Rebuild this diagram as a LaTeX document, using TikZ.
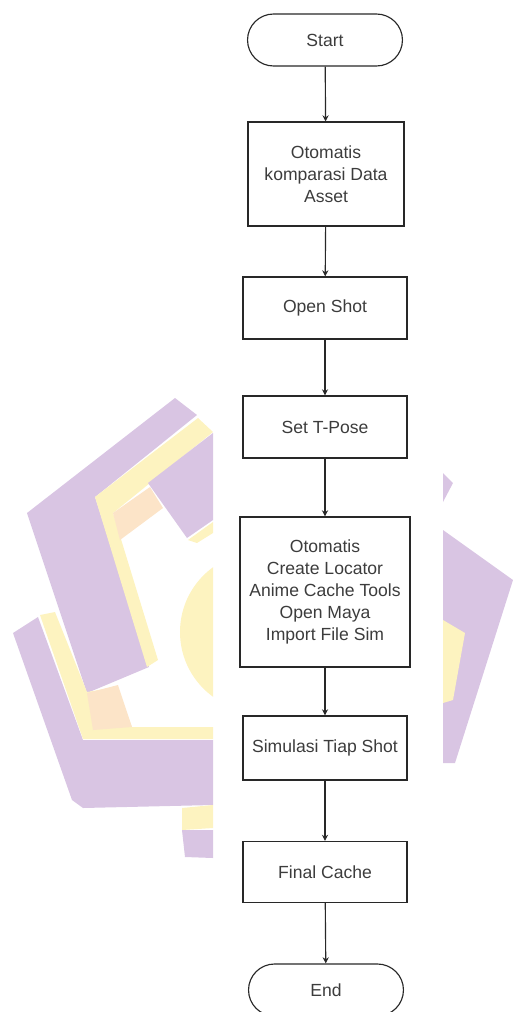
\documentclass[tikz,border=0pt]{standalone}
\usepackage{fontspec}
\setmainfont{Liberation Sans}
\definecolor{markpurple}{RGB}{217, 197, 227}
\definecolor{markyellow}{RGB}{253, 243, 192}
\definecolor{markpeach}{RGB}{252, 228, 200}
\definecolor{linegray}{RGB}{40, 40, 40}
\definecolor{textgray}{RGB}{60, 60, 60}
\usetikzlibrary{shapes, arrows.meta, positioning}

\begin{document}
\begin{tikzpicture}[
  x=0.02cm, y=-0.02cm,
  fbox/.style={draw=linegray, line width=0.65pt, align=center, inner sep=2pt, text=textgray, font=\fontsize{10}{12.5}\selectfont, minimum width=3.28cm},
  tbox/.style={fbox, rounded rectangle, minimum width=3.24cm, minimum height=1.04cm},
  flow/.style={draw=linegray, line width=0.65pt, -{Stealth[length=3.5pt, width=3.5pt]}}
]
  \useasboundingbox (0, 0) rectangle (513, 1012);

  \fill[markpurple] (27, 513) -- (175, 398) -- (197, 415) -- (95, 497) -- (149, 667) -- (87, 693) -- cycle;
  \fill[markyellow] (95, 497) -- (198, 418) -- (213, 432) -- (113, 513) -- (158, 660) -- (147, 667) -- cycle;
  \fill[markpeach] (113, 513) -- (150, 487) -- (163, 508) -- (120, 540) -- cycle;
  \fill[markpurple] (148, 483) -- (213, 433) -- (213, 520) -- (187, 538) -- cycle;
  \fill[markyellow] (188, 540) -- (213, 522) -- (213, 533) -- (197, 543) -- cycle;
  \fill[markpurple] (13, 633) -- (38, 617) -- (83, 740) -- (213, 740) -- (213, 805) -- (83, 808) -- (72, 800) -- cycle;
  \fill[markyellow] (40, 615) -- (55, 612) -- (87, 692) -- (117, 687) -- (132, 727) -- (213, 727) -- (213, 739) -- (83, 739) -- cycle;
  \fill[markpeach] (87, 693) -- (118, 685) -- (132, 727) -- (93, 730) -- cycle;
  \fill[markyellow] (182, 808) -- (213, 805) -- (213, 828) -- (182, 830) -- cycle;
  \fill[markpurple] (182, 830) -- (213, 830) -- (213, 858) -- (185, 857) -- cycle;
  \begin{scope}
    \clip (170, 540) rectangle (213, 710);
    \fill[markyellow] (260, 632) circle (80);
  \end{scope}
  \fill[markpurple] (443, 530) -- (513, 580) -- (455, 763) -- (443, 763) -- cycle;
  \fill[markyellow] (443, 620) -- (465, 633) -- (453, 700) -- (443, 703) -- cycle;
  \fill[markpurple] (443, 473) -- (453, 483) -- (443, 502) -- cycle;

  \node[tbox] (start) at (325, 40) {Start};
  \node[fbox, minimum width=3.12cm, minimum height=2.08cm] (compare) at (326, 174) {
    Otomatis\\
    komparasi Data\\
    Asset
  };
  \node[fbox, minimum height=1.24cm] (openshot) at (325, 308) {Open Shot};
  \node[fbox, minimum height=1.24cm] (tpose) at (325, 427) {Set T-Pose};
  \node[fbox, minimum width=3.4cm, minimum height=3cm] (locator) at (325, 592) {
    Otomatis\\
    Create Locator\\
    Anime Cache Tools\\
    Open Maya\\
    Import File Sim
  };
  \node[fbox, minimum height=1.28cm] (simulate) at (325, 748) {Simulasi Tiap Shot};
  \node[fbox, minimum height=1.22cm] (final) at (325, 872) {Final Cache};
  \node[tbox] (end) at (326, 990) {End};

  \draw[flow] (start) -- (compare);
  \draw[flow] (compare) -- (openshot);
  \draw[flow] (openshot) -- (tpose);
  \draw[flow] (tpose) -- (locator);
  \draw[flow] (locator) -- (simulate);
  \draw[flow] (simulate) -- (final);
  \draw[flow] (final) -- (end);
\end{tikzpicture}
\end{document}
